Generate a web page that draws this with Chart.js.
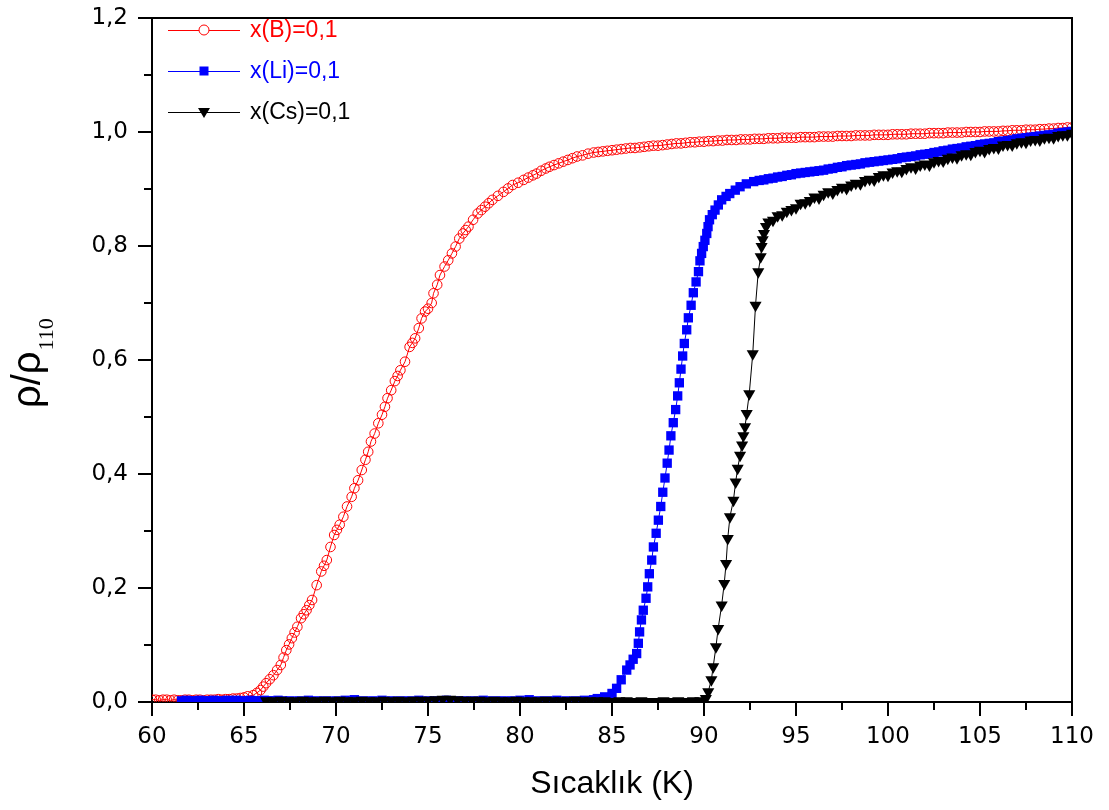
<!DOCTYPE html>
<html>
<head>
<meta charset="utf-8">
<script src="https://cdn.jsdelivr.net/npm/chart.js@4.4.1/dist/chart.umd.min.js"></script>
<style>
  html, body { margin: 0; padding: 0; background: #fff; }
  canvas { display: block; }
</style>
</head>
<body>
<canvas id="c" width="1109" height="810"></canvas>
<script>
// ---- Series names ----
const seriesNames = ['x(B)=0,1', 'x(Li)=0,1', 'x(Cs)=0,1'];

// ---- Axis ticks ----
const xMajorTicks = [60, 65, 70, 75, 80, 85, 90, 95, 100, 105, 110];
const xMinorTicks = [62.5, 67.5, 72.5, 77.5, 82.5, 87.5, 92.5, 97.5, 102.5, 107.5];
const yMajorTicks = [0, 0.2, 0.4, 0.6, 0.8, 1.0, 1.2];
const yMinorTicks = [0.1, 0.3, 0.5, 0.7, 0.9, 1.1];

// ---- x(B)=0,1 : temperature (K) and rho/rho110 ----
const bTemp = [
  60.0,60.2,60.4,60.6,60.8,61.0,61.2,61.4,61.6,61.8,62.0,62.2,62.4,62.6,62.8,63.0,63.2,63.4,63.6,63.8,64.0,64.2,64.4,64.6,64.8,
  65.0,65.2,65.5,65.7,65.9,66.05,66.2,66.4,66.6,66.8,
  67.0,67.15,67.3,67.45,67.6,67.75,67.9,68.1,68.25,68.4,
  68.55,68.7,68.95,69.2,69.35,69.5,69.7,69.9,70.05,70.2,
  70.4,70.6,70.85,71.0,71.2,71.4,71.6,71.75,71.9,72.1,
  72.3,72.5,72.66,72.8,73.0,73.2,73.35,73.5,73.75,74.0,
  74.15,74.3,74.5,74.65,74.84,75.0,75.2,75.3,75.5,75.65,
  75.9,76.1,76.3,76.5,76.7,76.9,77.05,77.2,77.45,77.7,
  77.9,78.1,78.3,78.5,78.8,79.1,79.35,79.6,79.9,80.2,
  80.45,80.7,80.9,81.15,81.4,81.6,81.85,82.1,82.35,82.6,
  82.85,83.1,83.4,83.7,
  84.0,84.25,84.5,84.75,85.0,85.25,85.5,85.75,
  86.0,86.25,86.5,86.75,87.0,87.25,87.5,87.75,
  88.0,88.25,88.5,88.75,89.0,89.25,89.5,89.75,
  90.0,90.25,90.5,90.75,91.0,91.25,91.5,91.75,
  92.0,92.25,92.5,92.75,93.0,93.25,93.5,93.75,
  94.0,94.25,94.5,94.75,95.0,95.25,95.5,95.75,
  96.0,96.25,96.5,96.75,97.0,97.25,97.5,97.75,
  98.0,98.25,98.5,98.75,99.0,99.25,99.5,99.75,
  100.0,100.25,100.5,100.75,101.0,101.25,101.5,101.75,
  102.0,102.25,102.5,102.75,103.0,103.25,103.5,103.75,
  104.0,104.25,104.5,104.75,105.0,105.25,105.5,105.75,
  106.0,106.25,106.5,106.75,107.0,107.25,107.5,107.75,
  108.0,108.25,108.5,108.75,109.0,109.25,109.5,109.75,
  110.0
];
const bRatio = [
  0.004,0.004,0.003,0.004,0.004,0.003,0.004,0.003,0.003,0.004,0.004,0.003,0.004,0.004,0.003,0.004,0.004,0.004,0.005,0.004,0.005,0.005,0.006,0.006,0.007,
  0.008,0.010,0.012,0.016,0.021,0.027,0.033,0.040,0.047,0.056,
  0.065,0.078,0.091,0.101,0.112,0.122,0.132,0.147,0.154,0.161,
  0.170,0.179,0.205,0.229,0.239,0.249,0.272,0.293,0.302,0.311,
  0.325,0.343,0.360,0.375,0.389,0.407,0.425,0.439,0.457,0.471,
  0.489,0.504,0.518,0.533,0.547,0.563,0.572,0.582,0.597,0.623,
  0.630,0.638,0.656,0.673,0.685,0.690,0.700,0.717,0.732,0.749,
  0.764,0.775,0.787,0.799,0.813,0.822,0.828,0.834,0.846,0.857,
  0.863,0.869,0.875,0.881,0.888,0.895,0.901,0.907,0.911,0.916,
  0.920,0.924,0.927,0.932,0.936,0.939,0.942,0.945,0.948,0.951,
  0.954,0.957,0.959,0.962,
  0.964,0.965,0.966,0.967,0.968,0.969,0.970,0.971,
  0.972,0.972,0.973,0.974,0.975,0.976,0.976,0.977,
  0.978,0.979,0.980,0.980,0.981,0.982,0.982,0.983,
  0.983,0.984,0.984,0.985,0.985,0.986,0.986,0.986,
  0.987,0.987,0.987,0.988,0.988,0.988,0.989,0.989,
  0.989,0.990,0.990,0.990,0.990,0.991,0.991,0.991,
  0.991,0.992,0.992,0.992,0.992,0.993,0.993,0.993,
  0.993,0.994,0.994,0.994,0.994,0.995,0.995,0.995,
  0.995,0.996,0.996,0.996,0.996,0.997,0.997,0.997,
  0.997,0.998,0.998,0.998,0.998,0.999,0.999,0.999,
  0.999,1.000,1.000,1.000,1.000,1.001,1.001,1.001,
  1.001,1.002,1.002,1.003,1.003,1.003,1.004,1.004,
  1.004,1.005,1.005,1.006,1.006,1.007,1.007,1.008,
  1.008
];

// ---- x(Li)=0,1 ----
const liTemp = [
  61.6,61.85,62.1,62.35,62.6,62.85,63.1,63.35,63.6,63.85,64.1,64.35,64.6,64.85,65.1,65.35,65.6,65.85,66.1,66.35,66.6,66.85,67.1,
  67.5,68.0,68.5,69.0,69.5,70.0,70.5,71.0,71.5,72.0,72.5,73.0,73.5,74.0,74.5,75.0,75.5,76.0,76.5,77.0,77.5,78.0,78.5,79.0,79.5,80.0,80.5,81.0,81.5,82.0,82.5,83.0,83.5,84.0,
  84.2,84.6,85.0,85.25,85.5,85.8,85.98,86.15,86.34,86.43,
  86.5,86.6,86.7,86.85,86.94,87.03,87.16,87.25,87.4,87.52,
  87.65,87.76,87.88,88.0,88.1,88.2,88.33,88.46,88.57,88.66,
  88.75,88.84,88.93,89.06,89.15,89.3,89.42,89.57,89.7,89.78,
  89.87,89.96,90.05,90.15,90.22,90.3,90.45,90.6,90.78,90.96,
  91.2,91.4,91.7,91.96,92.3,92.7,
  93.0,93.25,93.5,93.75,94.0,94.25,94.5,94.75,
  95.0,95.25,95.5,95.75,96.0,96.25,96.5,96.75,
  97.0,97.25,97.5,97.75,98.0,98.25,98.5,98.75,
  99.0,99.25,99.5,99.75,100.0,100.25,100.5,100.75,
  101.0,101.25,101.5,101.75,102.0,102.25,102.5,102.75,
  103.0,103.25,103.5,103.75,104.0,104.25,104.5,104.75,
  105.0,105.25,105.5,105.75,106.0,106.25,106.5,106.75,
  107.0,107.25,107.5,107.75,108.0,108.25,108.5,108.75,
  109.0,109.25,109.5,109.75,110.0
];
const liRatio = [
  0.002,0.003,0.002,0.002,0.003,0.002,0.002,0.003,0.002,0.002,0.003,0.002,0.003,0.002,0.002,0.003,0.002,0.002,0.003,0.002,0.002,0.003,0.002,
  0.002,0.002,0.003,0.002,0.002,0.002,0.003,0.004,0.002,0.002,0.003,0.002,0.002,0.002,0.003,0.002,0.002,0.003,0.002,0.002,0.002,0.003,0.002,0.002,0.002,0.003,0.004,0.002,0.002,0.003,0.002,0.002,0.003,0.004,
  0.006,0.009,0.015,0.024,0.039,0.056,0.065,0.075,0.085,0.103,
  0.123,0.144,0.161,0.182,0.202,0.225,0.249,0.272,0.296,0.319,
  0.343,0.368,0.393,0.419,0.442,0.467,0.490,0.513,0.537,0.560,
  0.584,0.607,0.629,0.653,0.674,0.696,0.718,0.737,0.755,0.774,
  0.787,0.799,0.810,0.822,0.834,0.846,0.855,0.863,0.872,0.881,
  0.887,0.892,0.898,0.904,0.909,0.913,
  0.915,0.916,0.918,0.919,0.921,0.922,0.924,0.925,
  0.927,0.928,0.929,0.930,0.931,0.932,0.933,0.935,
  0.936,0.938,0.939,0.941,0.942,0.943,0.944,0.946,
  0.947,0.948,0.949,0.950,0.951,0.952,0.953,0.955,
  0.956,0.957,0.958,0.960,0.961,0.962,0.964,0.965,
  0.967,0.968,0.970,0.971,0.972,0.974,0.975,0.976,
  0.978,0.979,0.980,0.981,0.983,0.984,0.985,0.986,
  0.988,0.989,0.990,0.991,0.992,0.993,0.994,0.995,
  0.996,0.998,0.999,1.000,1.001
];

// ---- x(Cs)=0,1 ----
const csTemp = [
  66.2,66.6,67.0,67.4,67.8,68.2,68.6,69.0,69.4,69.8,
  70.2,70.6,71.0,71.4,71.8,72.2,72.6,73.0,73.4,73.8,
  74.2,74.6,75.0,75.4,75.8,76.2,76.6,77.0,77.4,77.8,
  78.2,78.6,79.0,79.4,79.8,80.2,80.6,81.0,81.4,81.8,
  82.2,82.6,83.0,83.4,83.8,84.2,84.6,85.0,85.4,85.8,
  86.2,86.6,87.0,87.4,87.8,88.2,88.6,89.0,89.4,89.8,
  90.1,
  90.23,90.4,90.5,90.65,90.77,90.96,91.1,91.2,91.29,91.41,
  91.6,91.72,91.83,91.96,92.07,92.14,92.23,92.32,92.46,92.65,
  92.8,92.95,93.08,93.13,93.19,93.26,93.37,
  93.5,93.75,94.0,94.25,94.5,94.75,95.0,95.25,95.5,95.75,
  96.0,96.25,96.5,96.75,97.0,97.25,97.5,97.75,98.0,98.25,
  98.5,98.75,99.0,99.25,99.5,99.75,100.0,100.25,100.5,100.75,
  101.0,101.25,101.5,101.75,102.0,102.25,102.5,102.75,103.0,103.25,
  103.5,103.75,104.0,104.25,104.5,104.75,105.0,105.25,105.5,105.75,
  106.0,106.25,106.5,106.75,107.0,107.25,107.5,107.75,108.0,108.25,
  108.5,108.75,109.0,109.25,109.5,109.75,110.0
];
const csRatio = [
  0.002,0.002,0.003,0.002,0.002,0.003,0.002,0.002,0.003,0.002,
  0.003,0.002,0.002,0.003,0.002,0.002,0.003,0.002,0.003,0.002,
  0.003,0.003,0.003,0.004,0.005,0.005,0.004,0.003,0.003,0.003,
  0.002,0.003,0.002,0.002,0.003,0.002,0.002,0.002,0.003,0.002,
  0.002,0.002,0.003,0.002,0.002,0.002,0.002,0.001,0.002,0.002,
  0.001,0.002,0.001,0.001,0.002,0.001,0.002,0.001,0.002,0.002,
  0.006,
  0.018,0.039,0.062,0.097,0.129,0.170,0.208,0.243,0.287,0.325,
  0.354,0.386,0.410,0.433,0.451,0.467,0.483,0.506,0.541,0.611,
  0.696,0.755,0.781,0.799,0.811,0.822,0.834,
  0.842,0.845,0.853,0.855,0.861,0.864,0.867,0.875,0.876,0.880,
  0.886,0.884,0.891,0.895,0.893,0.899,0.903,0.901,0.907,0.910,
  0.909,0.915,0.917,0.916,0.922,0.925,0.924,0.930,0.932,0.931,
  0.936,0.939,0.937,0.942,0.944,0.942,0.948,0.950,0.949,0.954,
  0.956,0.955,0.960,0.962,0.961,0.966,0.968,0.966,0.971,0.973,
  0.972,0.977,0.978,0.977,0.981,0.983,0.982,0.986,0.987,0.986,
  0.990,0.991,0.990,0.994,0.995,0.995,0.998
];

const FONT = '"Liberation Sans", Arial, sans-serif';
const TICK_FONT = '"DejaVu Sans", Verdana, sans-serif';
const SERIF = '"Liberation Serif", "Times New Roman", serif';

function toPoints(ts, vs) {
  const n = Math.min(ts.length, vs.length);
  const out = [];
  for (let i = 0; i < n; i++) out.push({ x: ts[i], y: vs[i] });
  return out;
}

// Frame on top/right plus outward major and minor tick marks
const frameTicks = {
  id: 'frameTicks',
  afterDraw(chart) {
    const { ctx, chartArea: a, scales: { x, y } } = chart;
    ctx.save();
    ctx.strokeStyle = '#000';
    ctx.lineWidth = 2;
    ctx.beginPath();
    ctx.moveTo(a.left, a.top);
    ctx.lineTo(a.right, a.top);
    ctx.lineTo(a.right, a.bottom + 1);
    ctx.stroke();
    ctx.beginPath();
    xMajorTicks.forEach(v => { const p = Math.round(x.getPixelForValue(v)); ctx.moveTo(p, a.bottom); ctx.lineTo(p, a.bottom + 14); });
    xMinorTicks.forEach(v => { const p = Math.round(x.getPixelForValue(v)); ctx.moveTo(p, a.bottom); ctx.lineTo(p, a.bottom + 8); });
    yMajorTicks.forEach(v => { const p = Math.round(y.getPixelForValue(v)); ctx.moveTo(a.left, p); ctx.lineTo(a.left - 14, p); });
    yMinorTicks.forEach(v => { const p = Math.round(y.getPixelForValue(v)); ctx.moveTo(a.left, p); ctx.lineTo(a.left - 8, p); });
    ctx.stroke();
    ctx.restore();
  }
};

// Y axis title: rho / rho with subscript 110
const yTitle = {
  id: 'yTitle',
  afterDraw(chart) {
    const ctx = chart.ctx;
    ctx.save();
    ctx.translate(40, 408);
    ctx.rotate(-Math.PI / 2);
    ctx.fillStyle = '#000';
    ctx.textBaseline = 'alphabetic';
    ctx.textAlign = 'left';
    ctx.font = '40px ' + FONT;
    const main = '\u03C1/\u03C1';
    ctx.fillText(main, 0, 0);
    const w = ctx.measureText(main).width;
    ctx.font = '22px ' + SERIF;
    ctx.fillText('110', w + 1, 13);
    ctx.restore();
  }
};

// Legend in the upper-left corner of the plot
const cornerLegend = {
  id: 'cornerLegend',
  afterDraw(chart) {
    const ctx = chart.ctx;
    ctx.save();
    chart.data.datasets.forEach((ds, i) => {
      const yy = 30 + i * 41;
      ctx.strokeStyle = ds.borderColor;
      ctx.lineWidth = 1;
      ctx.beginPath();
      ctx.moveTo(168, yy + 0.5);
      ctx.lineTo(240, yy + 0.5);
      ctx.stroke();
      const cx = 204;
      ctx.fillStyle = ds.pointBackgroundColor;
      ctx.strokeStyle = ds.pointBorderColor;
      if (ds.pointStyle === 'circle') {
        ctx.beginPath();
        ctx.arc(cx, yy, 5, 0, Math.PI * 2);
        ctx.fillStyle = '#fff';
        ctx.fill();
        ctx.stroke();
      } else if (ds.pointStyle === 'rect') {
        ctx.fillRect(cx - 4.5, yy - 4.5, 9, 9);
      } else {
        ctx.beginPath();
        ctx.moveTo(cx - 6, yy - 4);
        ctx.lineTo(cx + 6, yy - 4);
        ctx.lineTo(cx, yy + 6);
        ctx.closePath();
        ctx.fill();
      }
      ctx.fillStyle = ds.borderColor;
      ctx.font = '23px ' + FONT;
      ctx.textBaseline = 'middle';
      ctx.textAlign = 'left';
      ctx.fillText(ds.label, 250, yy + 1);
    });
    ctx.restore();
  }
};

new Chart(document.getElementById('c'), {
  type: 'line',
  data: {
    datasets: [
      {
        label: seriesNames[0],
        data: toPoints(bTemp, bRatio),
        borderColor: '#ff0000',
        borderWidth: 1,
        pointStyle: 'circle',
        pointRadius: 4.8,
        pointBorderWidth: 1,
        pointBorderColor: '#ff0000',
        pointBackgroundColor: 'rgba(255,255,255,0)',
        order: 3,
        clip: 0
      },
      {
        label: seriesNames[1],
        data: toPoints(liTemp, liRatio),
        borderColor: '#0000ff',
        borderWidth: 1,
        pointStyle: 'rect',
        pointRadius: 6.6,
        pointBorderWidth: 0,
        pointBorderColor: '#0000ff',
        pointBackgroundColor: '#0000ff',
        order: 2,
        clip: 0
      },
      {
        label: seriesNames[2],
        data: toPoints(csTemp, csRatio),
        borderColor: '#000000',
        borderWidth: 1,
        pointStyle: 'triangle',
        pointRotation: 180,
        pointRadius: 7,
        pointBorderWidth: 0,
        pointBorderColor: '#000000',
        pointBackgroundColor: '#000000',
        order: 1,
        clip: 0
      }
    ]
  },
  options: {
    responsive: false,
    devicePixelRatio: 1,
    animation: false,
    layout: { padding: { left: 0, right: 37, top: 18, bottom: 0 } },
    elements: { line: { tension: 0 } },
    plugins: { legend: { display: false }, tooltip: { enabled: false } },
    scales: {
      x: {
        type: 'linear',
        min: 60, max: 110,
        grid: { display: false, drawTicks: false },
        border: { display: true, color: '#000', width: 2 },
        afterBuildTicks: s => { s.ticks = xMajorTicks.map(v => ({ value: v })); },
        ticks: {
          color: '#000', font: { family: TICK_FONT, size: 23 }, padding: 21,
          maxRotation: 0, autoSkip: false,
          callback: v => String(v)
        },
        title: {
          display: true, text: 'Sıcaklık (K)', color: '#000',
          font: { family: FONT, size: 32 }, padding: { top: 0, bottom: 7 }
        },
        afterFit: s => { s.height = 108; s.paddingLeft = 0; s.paddingRight = 0; }
      },
      y: {
        type: 'linear',
        min: 0, max: 1.2,
        grid: { display: false, drawTicks: false },
        border: { display: true, color: '#000', width: 2 },
        afterBuildTicks: s => { s.ticks = yMajorTicks.map(v => ({ value: v })); },
        ticks: {
          color: '#000', font: { family: TICK_FONT, size: 23 }, padding: 24,
          callback: v => v.toFixed(1).replace('.', ',')
        },
        afterFit: s => { s.width = 152; s.paddingTop = 0; s.paddingBottom = 0; }
      }
    }
  },
  plugins: [frameTicks, yTitle, cornerLegend]
});
</script>
</body>
</html>
